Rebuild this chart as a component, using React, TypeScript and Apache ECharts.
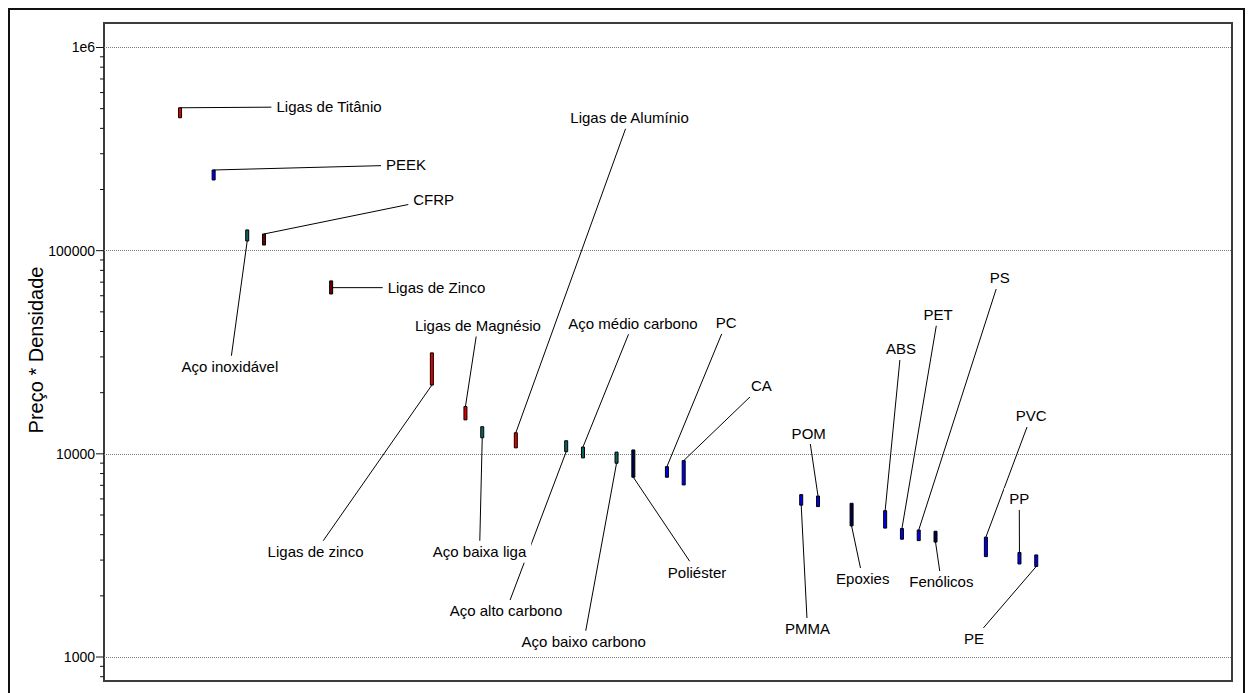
import React, { useEffect, useRef } from "react";
import * as echarts from "echarts";

// ---- data ----
const materials = [
  "Ligas de Titânio", "PEEK", "Aço inoxidável", "CFRP", "Ligas de Zinco",
  "Ligas de zinco", "Ligas de Magnésio", "Aço baixa liga", "Ligas de Alumínio",
  "Aço alto carbono", "Aço médio carbono", "Aço baixo carbono", "Poliéster",
  "PC", "CA", "PMMA", "POM", "Epoxies", "ABS", "PET", "PS", "Fenólicos",
  "PVC", "PP", "PE",
];
const slots = [0, 2, 4, 5, 9, 15, 17, 18, 20, 23, 24, 26, 27, 29, 30, 37, 38, 40, 42, 43, 44, 45, 48, 50, 51];
const lowValues = [
  451000, 222800, 111600, 106600, 61200, 21800, 14700, 12000, 10700, 10250,
  9550, 8990, 7670, 7670, 7030, 5590, 5500, 4420, 4310, 3800, 3740, 3680,
  3120, 2870, 2790,
];
const highValues = [
  505000, 249500, 126500, 120800, 71000, 31400, 17100, 13600, 12700, 11600,
  10800, 10200, 10450, 8650, 9260, 6300, 6200, 5710, 5250, 4290, 4220, 4160,
  3890, 3270, 3180,
];
const families = [
  "metal", "polymer", "steel", "composite", "zinc", "metal", "metal", "steel",
  "metal", "steel", "steel", "steel", "thermoset", "polymer", "polymer",
  "polymer", "polymer", "thermoset", "polymer", "polymer", "polymer",
  "thermoset", "polymer", "polymer", "polymer",
];
const majorTicks = [1000, 10000, 100000, 1000000];
const majorTickLabels = ["1000", "10000", "100000", "1e6"];
const minorTicks = [
  800, 900,
  2000, 3000, 4000, 5000, 6000, 7000, 8000, 9000,
  20000, 30000, 40000, 50000, 60000, 70000, 80000, 90000,
  200000, 300000, 400000, 500000, 600000, 700000, 800000, 900000,
];
const yAxisTitle = "Preço * Densidade";

// ---- layout / style ----
const familyColors: Record<string, string> = {
  metal: "#e00000",
  zinc: "#6e0000",
  composite: "#6e0000",
  steel: "#0f6262",
  polymer: "#0000ee",
  thermoset: "#000048",
};
// label centre offsets (px) from the bar's midpoint
const labelOffsets: [number, number][] = [
  [149, -6], [192.4, -10], [-17.3, 131.2], [169.7, -40.2], [105.3, 0.2],
  [-116.3, 182.7], [12.4, -87.6], [-2.7, 119.4], [113.7, -322.5], [-60.2, 164.7],
  [50, -129.2], [-32.8, 184], [63.7, 108.6], [59.3, -149], [77.7, -86.8],
  [6.3, 129], [-9.3, -68.3], [11.2, 64.3], [15.8, -170.5], [36.2, -219],
  [81, -257.3], [5.8, 45.3], [45.3, -131], [-0.2, -59.3], [-62.3, 78.2],
];
const FONT = '"Liberation Sans", Arial, sans-serif';
const X_MIN = -4.53;
const X_MAX = 62.66;
const Y_MIN = 762;
const Y_MAX = 1320000;

function geom(api: any) {
  const lo = api.coord([api.value(0), api.value(1)]);
  const hi = api.coord([api.value(0), api.value(2)]);
  return { cx: lo[0], yLo: lo[1], yHi: hi[1], mid: (lo[1] + hi[1]) / 2 };
}

export default function App() {
  const ref = useRef<HTMLDivElement>(null);
  useEffect(() => {
    if (!ref.current) return;
    const chart = echarts.init(ref.current, null, { renderer: "svg" });
    const data = materials.map((_, i) => [slots[i], lowValues[i], highValues[i]]);
    const tickData = [
      ...majorTicks.map((v) => [X_MIN, v, 8]),
      ...minorTicks.map((v) => [X_MIN, v, 4]),
    ];
    const option: any = {
      animation: false,
      backgroundColor: "#ffffff",
      grid: {
        left: 104,
        top: 23,
        right: 18,
        bottom: 12,
        show: true,
        borderColor: "#3c3c3c",
        borderWidth: 2,
        backgroundColor: "transparent",
      },
      xAxis: {
        type: "value",
        min: X_MIN,
        max: X_MAX,
        show: false,
      },
      yAxis: {
        type: "log",
        logBase: 10,
        min: Y_MIN,
        max: Y_MAX,
        axisLine: { show: false },
        axisTick: { show: false },
        minorTick: { show: false },
        axisLabel: {
          margin: 9,
          color: "#000",
          fontSize: 14,
          fontFamily: FONT,
          formatter: (v: number) => {
            for (let k = 0; k < majorTicks.length; k++) {
              if (Math.abs(Math.log10(v) - Math.log10(majorTicks[k])) < 1e-6) return majorTickLabels[k];
            }
            return "";
          },
        },
        splitLine: {
          show: true,
          showMinLine: false,
          showMaxLine: false,
          lineStyle: { type: "dotted", color: "#7a7a7a", width: 1 },
        },
      },
      graphic: [
        {
          type: "rect",
          shape: { x: 9, y: 9, width: 1235, height: 720 },
          style: { fill: "none", stroke: "#111", lineWidth: 2 },
          silent: true,
        },
        {
          type: "text",
          x: 36,
          y: 350,
          rotation: Math.PI / 2,
          style: {
            text: yAxisTitle,
            font: `20px ${FONT}`,
            fill: "#000",
            align: "center",
            verticalAlign: "middle",
          },
          silent: true,
        },
      ],
      series: [
        {
          type: "custom",
          name: "ticks",
          clip: false,
          z: 5,
          silent: true,
          data: tickData,
          encode: { x: 0, y: 1 },
          renderItem: (params: any, api: any) => {
            const p = api.coord([api.value(0), api.value(1)]);
            const len = api.value(2);
            return {
              type: "line",
              shape: { x1: p[0] - len, y1: p[1], x2: p[0], y2: p[1] },
              style: { stroke: "#111", lineWidth: 1 },
            };
          },
        },
        {
          type: "custom",
          name: "leaders",
          clip: false,
          z: 2,
          silent: true,
          data,
          encode: { x: 0, y: [1, 2] },
          renderItem: (params: any, api: any) => {
            const g = geom(api);
            const off = labelOffsets[params.dataIndex];
            const lx = g.cx + off[0];
            const ly = g.mid + off[1];
            const ay = Math.min(Math.max(ly, g.yHi), g.yLo);
            return {
              type: "line",
              shape: { x1: g.cx, y1: ay, x2: lx, y2: ly },
              style: { stroke: "#000", lineWidth: 1 },
            };
          },
        },
        {
          type: "custom",
          name: "labels",
          clip: false,
          z: 3,
          silent: true,
          data,
          encode: { x: 0, y: [1, 2] },
          renderItem: (params: any, api: any) => {
            const g = geom(api);
            const off = labelOffsets[params.dataIndex];
            return {
              type: "text",
              x: g.cx + off[0],
              y: g.mid + off[1],
              style: {
                text: materials[params.dataIndex],
                font: `15px ${FONT}`,
                fill: "#000",
                align: "center",
                verticalAlign: "middle",
                backgroundColor: "#ffffff",
                padding: [4, 5, 3, 5],
              },
            };
          },
        },
        {
          type: "custom",
          name: "bars",
          clip: false,
          z: 4,
          silent: true,
          data,
          encode: { x: 0, y: [1, 2] },
          renderItem: (params: any, api: any) => {
            const g = geom(api);
            return {
              type: "rect",
              shape: { x: g.cx - 1.5, y: g.yHi, width: 3, height: g.yLo - g.yHi },
              style: {
                fill: familyColors[families[params.dataIndex]],
                stroke: "#000",
                lineWidth: 1,
              },
            };
          },
        },
      ],
    };
    chart.setOption(option);
    return () => chart.dispose();
  }, []);
  return (
    <div
      ref={ref}
      style={{ position: "fixed", left: 0, top: 0, width: 1250, height: 693, background: "#fff" }}
    />
  );
}
